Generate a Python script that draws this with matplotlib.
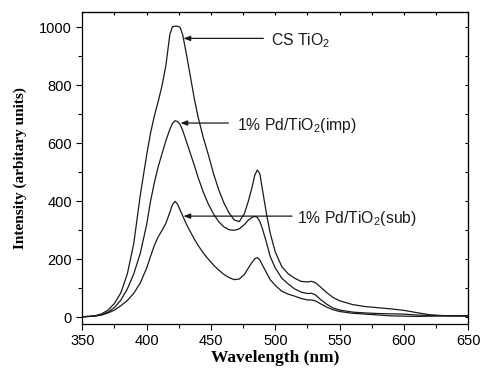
import matplotlib
matplotlib.use('Agg')
import matplotlib.pyplot as plt
import numpy as np

# wavelength grid (nm)
wl = [350, 355, 360, 365, 370, 375, 380, 385, 390, 395, 400, 403, 406, 409, 412, 415, 418,
      420, 422, 424, 426, 428, 431, 434, 437, 440, 444, 448, 452, 456, 460, 464, 468, 472,
      476, 479, 482, 484, 486, 488, 490, 493, 496, 500, 505, 510, 515, 520, 525, 528, 531,
      535, 540, 545, 550, 560, 570, 580, 590, 600, 610, 620, 630, 640, 650]

cs_tio2 = [2, 3, 5, 12, 25, 48, 85, 150, 255, 420, 560, 635, 695, 745, 800, 870, 975,
           1002, 1004, 1004, 1000, 975, 905, 830, 755, 690, 620, 560, 495, 440, 395, 360, 336, 330,
           358, 400, 450, 490, 508, 495, 440, 360, 290, 225, 175, 150, 135, 124, 122, 124, 120,
           105, 85, 68, 57, 44, 37, 33, 29, 24, 16, 9, 6, 5, 5]

pd_imp = [2, 3, 5, 9, 18, 34, 60, 98, 150, 220, 320, 400, 465, 520, 565, 610, 648,
          668, 678, 675, 665, 645, 605, 565, 525, 482, 432, 390, 356, 330, 312, 302, 300, 305,
          320, 335, 345, 348, 345, 330, 305, 260, 210, 170, 135, 115, 98, 87, 82, 83, 78,
          62, 45, 32, 25, 18, 15, 13, 12, 11, 8, 6, 5, 5, 5]

pd_sub = [2, 3, 4, 8, 15, 25, 40, 58, 83, 118, 170, 210, 248, 278, 300, 325, 362,
          388, 400, 390, 370, 350, 320, 295, 270, 248, 222, 200, 180, 163, 148, 137, 130, 132,
          148, 170, 190, 202, 206, 198, 180, 155, 130, 110, 90, 80, 73, 65, 60, 60, 57,
          47, 35, 26, 20, 14, 11, 8, 5, 4, 3, 4, 5, 5, 5]

labels = ['CS TiO$_2$', '1% Pd/TiO$_2$(imp)', '1% Pd/TiO$_2$(sub)']
tips = [(428.5, 962), (426.2, 670), (428.5, 349)]
line_ends = [490.7, 463.5, 513]
text_x = [497, 470.5, 517]

plt.rcParams['font.family'] = 'Liberation Sans'
plt.rcParams['mathtext.fontset'] = 'custom'
plt.rcParams['mathtext.rm'] = 'Liberation Sans'
plt.rcParams['mathtext.it'] = 'Liberation Sans:italic'

fig = plt.figure(figsize=(4.82, 3.69), dpi=100)
ax = fig.add_axes([0.1708, 0.122, 0.9716 - 0.1708, 0.9667 - 0.122])

for y in (cs_tio2, pd_imp, pd_sub):
    ax.plot(wl, y, color='#1a1a1a', lw=0.9)

for lab, tip, le, tx in zip(labels, tips, line_ends, text_x):
    ax.annotate('', xy=tip, xytext=(le, tip[1]),
                arrowprops=dict(arrowstyle='-|>,head_length=0.4,head_width=0.15',
                                color='#1a1a1a', lw=0.9, shrinkA=0, shrinkB=0))
    ax.text(tx, tip[1] - 8, lab, fontsize=11.3, va='center', ha='left', color='#1a1a1a')

ax.set_xlim(350, 650)
ax.set_ylim(-23, 1052)
ax.set_xticks(np.arange(350, 651, 50))
ax.set_xticks(np.arange(350, 651, 25), minor=True)
ax.set_yticks(np.arange(0, 1001, 200))
ax.set_yticks(np.arange(0, 1001, 100), minor=True)
ax.tick_params(which='both', direction='out', top=False, right=False, labelsize=10.5, width=0.8)
ax.tick_params(which='major', length=4)
ax.tick_params(which='minor', length=3)

# small inward ticks on top and right
axt = ax.secondary_xaxis('top')
axt.set_xticks(np.arange(350, 651, 50))
axt.set_xticks(np.arange(350, 651, 25), minor=True)
axt.tick_params(which='both', direction='in', length=2, width=0.8, labeltop=False)
axr = ax.secondary_yaxis('right')
axr.set_yticks(np.arange(0, 1001, 200))
axr.set_yticks(np.arange(0, 1001, 100), minor=True)
axr.tick_params(which='both', direction='in', length=2, width=0.8, labelright=False)

for s in ax.spines.values():
    s.set_linewidth(0.9)

ax.set_xlabel('Wavelength (nm)', family='Liberation Serif', fontweight='bold', fontsize=12.5, labelpad=1)
ax.set_ylabel('Intensity (arbitary units)', family='Liberation Serif', fontweight='bold', fontsize=11, labelpad=9)

fig.savefig('out.png', dpi=100)
